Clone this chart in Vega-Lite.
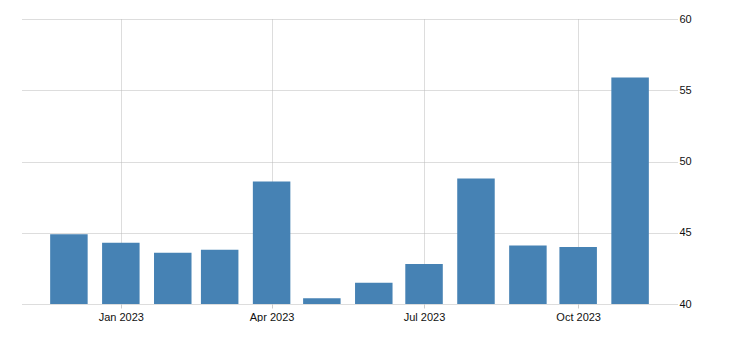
{
  "$schema": "https://vega.github.io/schema/vega-lite/v6.json",
  "width": 655,
  "height": 285,
  "padding": {"left": 22, "top": 13, "right": 0, "bottom": 0},
  "background": "#ffffff",
  "config": {
    "view": {"stroke": null},
    "axis": {"labelFont": "Liberation Sans", "labelFontSize": 11, "labelColor": "#111111"}
  },
  "data": {
    "values": [
      {"date": "2022-12-01", "value": 44.9},
      {"date": "2023-01-01", "value": 44.3},
      {"date": "2023-02-01", "value": 43.6},
      {"date": "2023-03-01", "value": 43.8},
      {"date": "2023-04-01", "value": 48.6},
      {"date": "2023-05-01", "value": 40.4},
      {"date": "2023-06-01", "value": 41.5},
      {"date": "2023-07-01", "value": 42.8},
      {"date": "2023-08-01", "value": 48.8},
      {"date": "2023-09-01", "value": 44.1},
      {"date": "2023-10-01", "value": 44.0},
      {"date": "2023-11-01", "value": 55.9}
    ]
  },
  "mark": {"type": "bar", "color": "#4682b4", "width": 37.5},
  "encoding": {
    "x": {
      "field": "date",
      "type": "temporal",
      "title": null,
      "scale": {
        "type": "utc",
        "padding": 0,
        "domain": [
          {"year": 2022, "month": 11, "date": 3, "utc": true},
          {"year": 2023, "month": 11, "date": 29, "utc": true}
        ]
      },
      "axis": {
        "values": [
          {"year": 2023, "month": 1, "date": 1, "utc": true},
          {"year": 2023, "month": 4, "date": 1, "utc": true},
          {"year": 2023, "month": 7, "date": 1, "utc": true},
          {"year": 2023, "month": 10, "date": 1, "utc": true}
        ],
        "labelExpr": "utcFormat(datum.value, '%b %Y')",
        "domain": false,
        "ticks": true,
        "tickSize": 4,
        "tickColor": "#cccccc",
        "labelPadding": 3,
        "grid": true,
        "gridColor": "#bbbbbb",
        "gridDash": [1, 1],
        "gridWidth": 1
      }
    },
    "y": {
      "field": "value",
      "type": "quantitative",
      "title": null,
      "scale": {"domain": [40, 60], "zero": false, "nice": false},
      "axis": {
        "orient": "right",
        "values": [40, 45, 50, 55, 60],
        "domain": false,
        "ticks": false,
        "labelPadding": 2,
        "labelAlign": "left",
        "grid": true,
        "gridColor": "#bbbbbb",
        "gridDash": [1, 1],
        "gridWidth": 1
      }
    },
    "y2": {"datum": 40}
  }
}
